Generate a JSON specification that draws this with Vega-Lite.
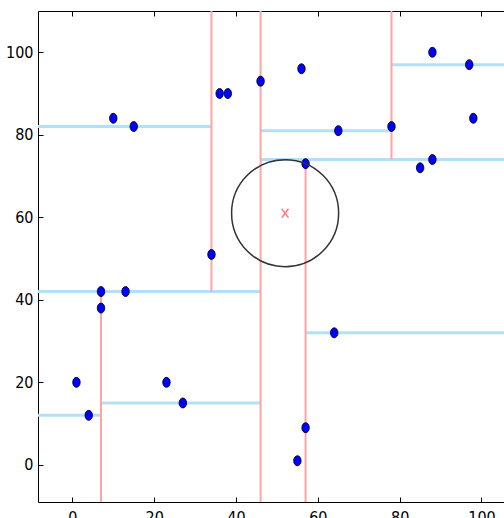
{
  "$schema": "https://vega.github.io/schema/vega-lite/v6.json",
  "width": 466,
  "height": 491,
  "autosize": {"type": "none"},
  "padding": {"left": 38, "top": 11, "right": 0, "bottom": 16},
  "background": "white",
  "config": {
    "view": {"stroke": null},
    "axis": {
      "grid": false,
      "domainColor": "black",
      "domainWidth": 1,
      "tickColor": "black",
      "tickWidth": 1,
      "tickSize": -5,
      "labelFont": "Liberation Sans Narrow, DejaVu Sans Condensed, sans-serif",
      "labelFontSize": 16,
      "labelColor": "black",
      "title": null
    }
  },
  "datasets": {
    "segs": [
      {"x1": 46, "x2": 46, "y1": -10, "y2": 111, "dir": "v"},
      {"x1": 34, "x2": 34, "y1": 42, "y2": 111, "dir": "v"},
      {"x1": 7, "x2": 7, "y1": -10, "y2": 42, "dir": "v"},
      {"x1": 57, "x2": 57, "y1": -10, "y2": 74, "dir": "v"},
      {"x1": 78, "x2": 78, "y1": 74, "y2": 111, "dir": "v"},
      {"x1": -10, "x2": 46, "y1": 42, "y2": 42, "dir": "h"},
      {"x1": -10, "x2": 34, "y1": 82, "y2": 82, "dir": "h"},
      {"x1": -10, "x2": 7, "y1": 12, "y2": 12, "dir": "h"},
      {"x1": 7, "x2": 46, "y1": 15, "y2": 15, "dir": "h"},
      {"x1": 46, "x2": 110, "y1": 74, "y2": 74, "dir": "h"},
      {"x1": 57, "x2": 110, "y1": 32, "y2": 32, "dir": "h"},
      {"x1": 46, "x2": 78, "y1": 81, "y2": 81, "dir": "h"},
      {"x1": 78, "x2": 110, "y1": 97, "y2": 97, "dir": "h"}
    ],
    "pts": [
      {"x": 1, "y": 20}, {"x": 4, "y": 12}, {"x": 7, "y": 42}, {"x": 7, "y": 38},
      {"x": 13, "y": 42}, {"x": 10, "y": 84}, {"x": 15, "y": 82}, {"x": 23, "y": 20},
      {"x": 27, "y": 15}, {"x": 34, "y": 51}, {"x": 36, "y": 90}, {"x": 38, "y": 90},
      {"x": 46, "y": 93}, {"x": 56, "y": 96}, {"x": 57, "y": 73}, {"x": 65, "y": 81},
      {"x": 64, "y": 32}, {"x": 57, "y": 9}, {"x": 55, "y": 1}, {"x": 78, "y": 82},
      {"x": 85, "y": 72}, {"x": 88, "y": 74}, {"x": 88, "y": 100}, {"x": 97, "y": 97},
      {"x": 98, "y": 84}
    ],
    "query": [{"x": 52, "y": 61}]
  },
  "layer": [
    {
      "data": {"name": "segs"},
      "transform": [{"filter": "datum.dir === 'h'"}],
      "mark": {"type": "rule", "color": "#b3e0f8", "strokeWidth": 3, "clip": true},
      "encoding": {
        "x": {"field": "x1", "type": "quantitative", "scale": {"domain": [-8.4, 105.5], "nice": false, "zero": false},
              "axis": {"orient": "bottom", "values": [0, 20, 40, 60, 80, 100], "labelPadding": 12, "labelBaseline": "top"}},
        "x2": {"field": "x2"},
        "y": {"field": "y1", "type": "quantitative", "scale": {"domain": [-9, 110], "nice": false, "zero": false},
              "axis": {"orient": "left", "values": [0, 20, 40, 60, 80, 100], "labelPadding": 10}},
        "y2": {"field": "y2"}
      }
    },
    {
      "data": {"name": "segs"},
      "transform": [{"filter": "datum.dir === 'v'"}],
      "mark": {"type": "rule", "color": "#ffa3a3", "strokeWidth": 2, "clip": true},
      "encoding": {
        "x": {"field": "x1", "type": "quantitative", "axis": null},
        "x2": {"field": "x2"},
        "y": {"field": "y1", "type": "quantitative", "axis": null},
        "y2": {"field": "y2"}
      }
    },
    {
      "data": {"name": "pts"},
      "mark": {"type": "point", "shape": "M -0.75 0 A 0.75 1 0 1 0 0.75 0 A 0.75 1 0 1 0 -0.75 0 Z", "size": 100, "filled": true, "fill": "#0000ff", "stroke": "black", "strokeWidth": 0.8, "opacity": 1},
      "encoding": {
        "x": {"field": "x", "type": "quantitative", "axis": {"orient": "top", "labels": false, "values": [0, 20, 40, 60, 80, 100]}},
        "y": {"field": "y", "type": "quantitative", "axis": null}
      }
    },
    {
      "data": {"name": "query"},
      "mark": {"type": "point", "shape": "circle", "size": 11450, "filled": false, "stroke": "#333333", "strokeWidth": 1.5, "opacity": 1},
      "encoding": {
        "x": {"field": "x", "type": "quantitative", "axis": null},
        "y": {"field": "y", "type": "quantitative", "axis": null}
      }
    },
    {
      "data": {"name": "query"},
      "mark": {"type": "point", "shape": "M -0.75 -1 L 0.75 1 M -0.75 1 L 0.75 -1", "size": 81, "filled": false, "stroke": "#ff7f7f", "strokeWidth": 1.5, "opacity": 1},
      "encoding": {
        "x": {"field": "x", "type": "quantitative", "axis": null},
        "y": {"field": "y", "type": "quantitative", "axis": null}
      }
    }
  ],
  "resolve": {"axis": {"x": "independent", "y": "independent"}}
}
